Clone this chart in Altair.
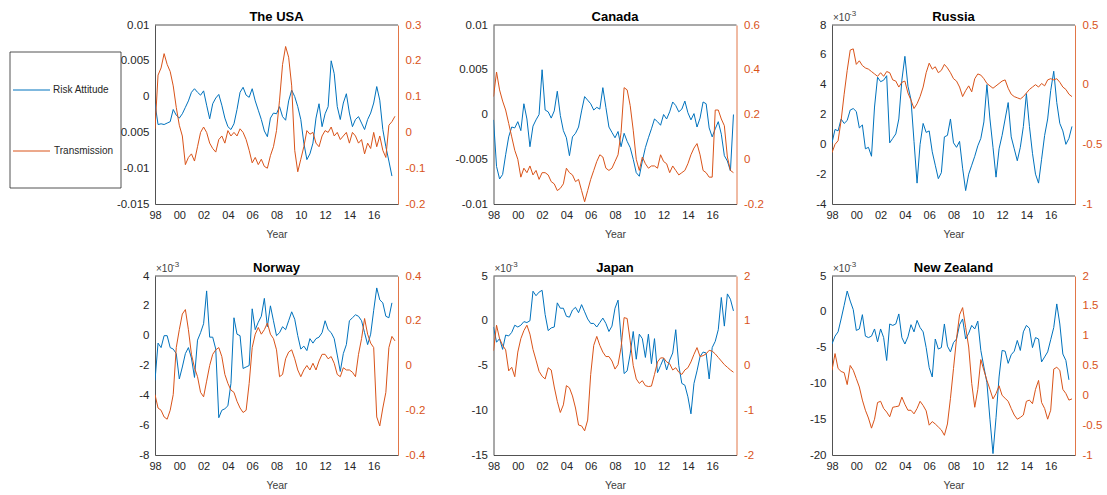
import altair as alt
import pandas as pd

# ---------------- data (quarterly from 1998) ----------------
START_YEAR = 1998
STEP = 0.25
X_TICKS = [1998, 2000, 2002, 2004, 2006, 2008, 2010, 2012, 2014, 2016]

# Risk attitude values are in units of 1e-3
USA_RISK = [-1.0, -3.9, -3.8, -3.9, -3.7, -3.5, -1.8, -2.6, -3.0, -2.4,
            -1.5, -0.6, 0.6, 1.1, 0.6, 0.2, 0.8, -1.2, -3.1, -1.0,
            -0.2, 0.3, -1.2, -3.0, -4.2, -4.6, -3.8, -1.8, 0.6, 1.3,
            0.2, -0.1, 1.1, -0.6, -1.9, -3.2, -4.8, -5.6, -3.0, -2.3,
            -2.4, -1.4, -2.8, -3.3, -0.6, 0.9, 0.0, -1.4, -3.2, -6.5,
            -8.8, -8.0, -6.5, -3.0, -1.0, -4.2, -2.4, -1.4, 5.0, 3.2,
            -1.4, -3.2, -0.9, 0.4, -2.3, -4.2, -3.2, -2.8, -3.7, -4.6,
            -3.2, -2.3, -0.9, 1.4, -0.5, -4.6, -7.0, -9.0, -11.1]
USA_TRANS = [0.01, 0.16, 0.18, 0.22, 0.19, 0.17, 0.13, 0.07, 0.02, -0.01,
             -0.09, -0.07, -0.06, -0.08, -0.04, 0.00, 0.015, 0.0, -0.03, -0.045,
             -0.055, -0.02, -0.01, -0.03, 0.005, -0.01, 0.0, -0.01, 0.01, 0.0,
             -0.02, -0.05, -0.085, -0.07, -0.09, -0.075, -0.095, -0.1, -0.065, -0.04,
             0.005, 0.09, 0.19, 0.24, 0.21, 0.13, -0.05, -0.11, -0.075, -0.04,
             0.005, -0.005, 0.0, -0.03, -0.04, -0.01, 0.005, 0.0, 0.015, -0.01,
             0.0, -0.02, -0.01, 0.0, -0.03, 0.0, -0.01, -0.03, -0.02, -0.06,
             -0.03, -0.045, 0.0, -0.04, -0.01, -0.05, -0.07, 0.02, 0.03, 0.045]

CAN_RISK = [-0.6, -5.8, -7.2, -6.7, -4.5, -2.5, -1.4, -1.5, -0.8, -1.8,
            1.2, -0.5, -3.6, -1.3, -0.6, 0.0, 5.0, 0.5, 0.3, -0.4,
            0.4, 2.6, -0.1, -1.8, -2.6, -4.6, -2.5, -2.1, -1.4, 0.4,
            2.0, 1.6, 1.2, 0.5, 0.8, 0.6, 3.0, 0.8, -1.4, -2.0,
            -2.6, -1.9, -3.6, -2.1, -3.0, -3.7, -5.0, -6.5, -6.9, -5.2,
            -3.7, -2.6, -1.6, -0.5, -0.8, -1.2, 0.0, -0.5, 0.3, 1.4,
            1.0, 0.3, 0.6, 1.5, 0.2, -0.6, 0.1, -1.4, -0.4, 1.4,
            1.2, -1.5, -2.5, -1.6, -0.8, -2.2, -4.6, -5.2, -6.3, 0.0]
CAN_TRANS = [0.28, 0.39, 0.31, 0.26, 0.22, 0.16, 0.10, 0.04, 0.00, -0.08,
             -0.04, -0.06, -0.03, -0.07, -0.05, -0.09, -0.06, -0.06, -0.07, -0.10,
             -0.11, -0.14, -0.13, -0.11, -0.04, -0.06, -0.07, -0.10, -0.09, -0.14,
             -0.19, -0.14, -0.09, -0.05, -0.01, 0.02, 0.01, -0.04, -0.05, -0.04,
             -0.01, 0.02, 0.12, 0.32, 0.31, 0.24, 0.13, 0.00, -0.05, 0.01,
             -0.02, -0.04, -0.03, -0.03, -0.04, 0.02, -0.01, -0.02, -0.06, -0.03,
             -0.05, -0.07, -0.06, -0.05, -0.02, 0.02, 0.05, 0.07, 0.02, -0.05,
             -0.06, -0.08, -0.08, 0.22, 0.22, 0.18, 0.15, 0.01, -0.05, -0.06]

RUS_RISK = [0.1, 1.0, 0.9, 1.7, 1.4, 1.6, 2.3, 2.4, 2.2, 1.1,
            1.3, -0.3, -0.2, -0.8, 2.5, 4.5, 4.2, 4.3, 4.6, 0.1,
            0.4, 0.7, 1.7, 4.3, 5.9, 3.9, 3.0, 0.2, -2.6, 0.0,
            1.4, 0.8, 0.9, -0.5, -1.4, -2.3, -1.9, 0.5, 0.6, 1.7,
            0.1, -0.2, 0.2, -1.6, -3.1, -2.0, -1.4, -0.8, -0.1, 0.4,
            1.5, 4.0, 1.7, -0.2, -2.2, -0.3, 0.6, 1.7, 2.8, 0.5,
            -0.3, -1.1, -0.2, 1.2, 3.4, 1.2, -0.6, -2.0, -2.6, -1.0,
            0.6, 1.7, 3.6, 4.9, 2.8, 1.4, 0.9, 0.0, 0.4, 1.2]
RUS_TRANS = [-0.57, -0.50, -0.47, -0.30, -0.08, 0.12, 0.29, 0.30, 0.17, 0.20,
             0.16, 0.14, 0.13, 0.11, 0.09, 0.07, 0.10, 0.07, 0.11, 0.10,
             0.04, 0.03, -0.02, 0.02, 0.03, -0.07, -0.13, -0.20, -0.16, -0.10,
             -0.02, 0.10, 0.18, 0.13, 0.15, 0.10, 0.12, 0.17, 0.14, 0.10,
             0.05, 0.03, -0.02, -0.10, -0.05, -0.01, -0.06, 0.05, 0.09, 0.08,
             0.05, 0.01, -0.01, -0.03, -0.01, 0.01, 0.03, 0.04, -0.03, -0.08,
             -0.10, -0.11, -0.12, -0.10, -0.07, -0.04, -0.02, 0.00, -0.02, 0.01,
             -0.01, 0.04, 0.05, 0.04, 0.05, 0.02, -0.02, -0.04, -0.08, -0.10]

NOR_RISK = [-3.0, -0.5, -0.8, 0.0, 0.0, -0.8, -0.9, -1.2, -2.9, -2.1,
            -1.2, -0.8, -1.5, -2.8, -0.3, 0.2, 0.8, 3.0, -0.1, -0.1,
            -0.9, -5.5, -5.0, -4.9, -4.7, -3.2, 1.2, 0.1, 0.0, -2.2,
            -2.1, -2.0, 1.8, 0.4, 0.9, 1.3, 2.5, 0.6, 2.0, 1.0,
            0.0, 0.2, 0.6, 0.4, 1.0, 1.6, 1.1, 0.0, -0.9, -0.7,
            -1.0, -0.2, -0.5, -0.2, -0.1, 0.2, 1.0, 0.4, 0.2, -0.2,
            -1.3, -2.4, -1.2, -0.6, 1.0, 1.2, 1.4, 1.3, 1.0, 0.2,
            -0.6, 0.1, 1.7, 3.2, 2.4, 2.2, 1.3, 1.2, 2.2]
NOR_TRANS = [-0.13, -0.19, -0.20, -0.23, -0.24, -0.20, -0.13, 0.08, 0.16, 0.23,
             0.25, 0.16, 0.05, -0.01, -0.05, -0.12, -0.14, -0.07, 0.00, 0.05,
             0.07, 0.08, 0.04, -0.04, -0.08, -0.11, -0.12, -0.16, -0.19, -0.21,
             -0.20, -0.08, 0.08, 0.14, 0.17, 0.14, 0.16, 0.19, 0.14, 0.12,
             0.07, -0.05, -0.04, 0.03, 0.06, 0.07, 0.03, -0.02, -0.05, -0.02,
             0.00, -0.02, 0.01, -0.02, 0.02, 0.05, 0.05, 0.03, 0.04, 0.01,
             -0.04, -0.05, -0.01, -0.02, -0.02, -0.03, -0.05, 0.05, 0.12, 0.21,
             0.14, 0.10, 0.08, -0.23, -0.27, -0.19, -0.12, 0.08, 0.13, 0.11]

JPN_RISK = [-0.7, -2.4, -2.0, -3.2, -1.6, -1.7, -1.3, -0.5, -0.7, -0.5,
            -0.1, -0.2, 0.0, 3.3, 2.8, 3.2, 3.4, 0.7, -1.1, -0.8,
            -0.7, 2.0, 1.4, 1.4, 0.5, 0.4, 1.2, 1.5, 0.9, 1.8,
            1.0, 0.2, -0.3, -0.3, -0.7, -0.2, 0.3, -0.3, -1.2, -0.6,
            1.4, 2.3, -1.9, -5.9, -5.6, -3.7, -1.2, -4.3, -1.5, -2.0,
            -4.1, -1.5, -4.8, -2.0, -5.8, -5.0, -4.2, -5.5, -4.4, -3.6,
            -1.0, -5.0, -7.0, -7.2, -8.5, -10.4, -7.0, -5.6, -4.0, -3.5,
            -3.6, -6.5, -3.0, -2.3, -1.0, 2.6, -0.6, 3.0, 2.4, 1.1]
JPN_TRANS = [0.33, 0.90, 0.60, 0.45, 0.35, -0.12, -0.04, -0.25, 0.30, 0.60,
             0.78, 0.90, 0.70, 0.36, 0.12, -0.13, -0.24, -0.30, -0.05, -0.10,
             -0.48, -0.80, -1.05, -0.88, -0.45, -0.50, -0.68, -0.95, -1.33, -1.35,
             -1.46, -1.22, -0.20, 0.45, 0.65, 0.45, 0.30, 0.20, 0.20, 0.10,
             -0.08, 0.02, 0.40, 1.07, 1.05, 0.55, 0.00, -0.30, -0.40, -0.34,
             -0.45, -0.47, -0.46, -0.20, 0.08, 0.17, 0.17, 0.08, 0.04, -0.10,
             -0.05, -0.15, -0.20, -0.10, -0.05, 0.08, 0.25, 0.40, 0.20, 0.22,
             0.26, 0.34, 0.32, 0.26, 0.18, 0.10, 0.02, -0.04, -0.10, -0.15]

NZL_RISK = [-4.5, -3.4, -2.8, -1.0, 0.9, 2.9, 1.5, 0.3, -2.6, -2.4,
            -0.4, -3.4, -3.6, -3.4, -2.4, -4.2, -2.4, -3.6, -6.8, -1.7,
            -1.9, -1.7, -0.3, -3.6, -4.5, -3.5, -1.8, -2.8, -1.2, -2.2,
            -2.8, -5.0, -7.8, -9.1, -3.8, -5.2, -5.0, -1.7, -4.8, -5.6,
            -4.3, -3.8, -1.8, -1.0, -3.8, -3.0, -1.9, -2.4, -1.3, -5.4,
            -7.7, -9.9, -15.0, -19.8, -14.8, -9.1, -5.4, -5.5, -7.2, -6.0,
            -5.5, -4.0, -5.4, -2.8, -1.9, -2.3, -5.0, -3.6, -3.8, -7.0,
            -6.3, -5.6, -3.9, -2.2, 1.1, -1.7, -5.9, -6.8, -9.5]
NZL_TRANS = [0.42, 0.70, 0.45, 0.40, 0.38, 0.18, 0.50, 0.42, 0.28, 0.14,
             -0.08, -0.25, -0.38, -0.55, -0.40, -0.12, -0.10, -0.22, -0.28, -0.36,
             -0.20, -0.19, -0.18, -0.03, -0.15, -0.25, -0.25, -0.31, -0.22, -0.10,
             -0.17, -0.26, -0.50, -0.44, -0.48, -0.53, -0.58, -0.67, -0.48, -0.05,
             0.45, 0.95, 1.35, 1.47, 1.14, 0.81, 0.20, -0.20, 0.10, 0.60,
             0.42, 0.25, 0.10, -0.06, 0.03, 0.16, 0.00, -0.05, -0.10, -0.22,
             -0.33, -0.40, -0.37, -0.33, -0.10, -0.08, -0.14, 0.10, 0.25, -0.12,
             -0.22, -0.40, -0.25, 0.44, 0.47, 0.42, 0.10, 0.03, -0.08, -0.06]

TITLES = ["The USA", "Canada", "Russia", "Norway", "Japan", "New Zealand"]
LEGEND_LABELS = ["Risk Attitude", "Transmission"]
SCALE_NOTE = "\u00d710"
SCALE_EXP = "-3"

# ---------------- styling ----------------
BLUE = "#0072BD"
ORANGE = "#D95319"
AXIS = "#262626"
FONT = "Liberation Sans"
W, H = 243, 179


def years(n):
    return [START_YEAR + STEP * i for i in range(n)]


def panel(title, risk, trans, left_ticks, left_dom, right_ticks, right_dom,
          decimal_left, note, legend=False):
    df_r = pd.DataFrame({"year": years(len(risk)), "value": risk})
    df_t = pd.DataFrame({"year": years(len(trans)), "value": trans})

    x = alt.X("year:Q",
              scale=alt.Scale(domain=[1998, 2018], nice=False, zero=False),
              axis=alt.Axis(values=X_TICKS, labelExpr="slice('' + datum.value, 2)",
                            title="Year", titleFontSize=10.5, titleFontWeight="normal",
                            titleColor="#404040", titlePadding=9,
                            labelFontSize=11, labelColor=AXIS, labelPadding=5,
                            labelFlush=False,
                            ticks=False, tickSize=0, grid=False,
                            domain=True, domainColor=AXIS, domainWidth=0.8))
    left_expr = "'' + (datum.value / 1000)" if decimal_left else "'' + datum.value"
    blue = alt.Chart(df_r).mark_line(color=BLUE, strokeWidth=1, clip=True).encode(
        x=x,
        y=alt.Y("value:Q",
                scale=alt.Scale(domain=left_dom, nice=False, zero=False),
                axis=alt.Axis(orient="left", values=left_ticks, labelExpr=left_expr,
                              title=None, ticks=False, tickSize=0, grid=False,
                              labelFontSize=11.5, labelColor=AXIS, labelPadding=6,
                              domain=True, domainColor=AXIS, domainWidth=0.8)))
    orange = alt.Chart(df_t).mark_line(color=ORANGE, strokeWidth=1, clip=True).encode(
        x=x,
        y=alt.Y("value:Q",
                scale=alt.Scale(domain=right_dom, nice=False, zero=False),
                axis=alt.Axis(orient="right", values=right_ticks,
                              labelExpr="'' + datum.value",
                              title=None, ticks=False, tickSize=0, grid=False,
                              labelFontSize=11.5, labelColor=ORANGE, labelPadding=7,
                              domain=True, domainColor=ORANGE, domainWidth=0.8)))
    top = alt.Chart(pd.DataFrame({"k": [0]})).mark_rule(color=AXIS, strokeWidth=0.8).encode(
        x=alt.value(0), x2=alt.value(W), y=alt.value(0))
    head = alt.Chart(pd.DataFrame({"title": [title]})).mark_text(
        align="center", baseline="alphabetic", fontSize=13, fontWeight="bold",
        color="black").encode(text="title:N", x=alt.value(W / 2), y=alt.value(-4))
    layers = [blue, orange, top, head]
    if note:
        note_df = pd.DataFrame({"t": [SCALE_NOTE], "e": [SCALE_EXP]})
        layers.append(alt.Chart(note_df).mark_text(
            align="left", baseline="alphabetic", fontSize=10, color="#404040").encode(
            text="t:N", x=alt.value(1), y=alt.value(-4)))
        layers.append(alt.Chart(note_df).mark_text(
            align="left", baseline="alphabetic", fontSize=8, color="#404040").encode(
            text="e:N", x=alt.value(17), y=alt.value(-9)))
    if legend:
        ldf = pd.DataFrame({"label": LEGEND_LABELS})
        box = alt.Chart(ldf.head(1)).mark_rect(
            fill="white", stroke=AXIS, strokeWidth=0.8).encode(
            x=alt.value(-145), x2=alt.value(-34), y=alt.value(27), y2=alt.value(163))
        l1 = alt.Chart(ldf).transform_filter(alt.datum.label == LEGEND_LABELS[0])
        l2 = alt.Chart(ldf).transform_filter(alt.datum.label == LEGEND_LABELS[1])
        layers += [
            box,
            l1.mark_rule(color=BLUE, strokeWidth=1).encode(
                x=alt.value(-142), x2=alt.value(-105), y=alt.value(65)),
            l1.mark_text(align="left", baseline="middle", fontSize=10, color=AXIS).encode(
                text="label:N", x=alt.value(-102), y=alt.value(65)),
            l2.mark_rule(color=ORANGE, strokeWidth=1).encode(
                x=alt.value(-142), x2=alt.value(-105), y=alt.value(126)),
            l2.mark_text(align="left", baseline="middle", fontSize=10, color=AXIS).encode(
                text="label:N", x=alt.value(-101), y=alt.value(126)),
        ]
    return alt.layer(*layers).resolve_scale(y="independent").properties(
        width=W, height=H)


usa = panel(TITLES[0], USA_RISK, USA_TRANS, [-15, -10, -5, 0, 5, 10], [-15, 10],
            [-0.2, -0.1, 0, 0.1, 0.2, 0.3], [-0.2, 0.3], True, False, legend=True)
can = panel(TITLES[1], CAN_RISK, CAN_TRANS, [-10, -5, 0, 5, 10], [-10, 10],
            [-0.2, 0, 0.2, 0.4, 0.6], [-0.2, 0.6], True, False)
rus = panel(TITLES[2], RUS_RISK, RUS_TRANS, [-4, -2, 0, 2, 4, 6, 8], [-4, 8],
            [-1, -0.5, 0, 0.5], [-1, 0.5], False, True)
nor = panel(TITLES[3], NOR_RISK, NOR_TRANS, [-8, -6, -4, -2, 0, 2, 4], [-8, 4],
            [-0.4, -0.2, 0, 0.2, 0.4], [-0.4, 0.4], False, True)
jpn = panel(TITLES[4], JPN_RISK, JPN_TRANS, [-15, -10, -5, 0, 5], [-15, 5],
            [-2, -1, 0, 1, 2], [-2, 2], False, True)
nzl = panel(TITLES[5], NZL_RISK, NZL_TRANS, [-20, -15, -10, -5, 0, 5], [-20, 5],
            [-1, -0.5, 0, 0.5, 1, 1.5, 2], [-1, 2], False, True)

chart = alt.concat(usa, can, rus, nor, jpn, nzl, columns=3,
                   spacing={"row": 72, "column": 95.5}, bounds="flush").properties(
    padding={"left": 9, "top": 10, "right": 4, "bottom": 2},
    background="white",
).configure(font=FONT).configure_view(stroke=None)

chart.save("out.html", embed_options={"renderer": "svg", "actions": False})
